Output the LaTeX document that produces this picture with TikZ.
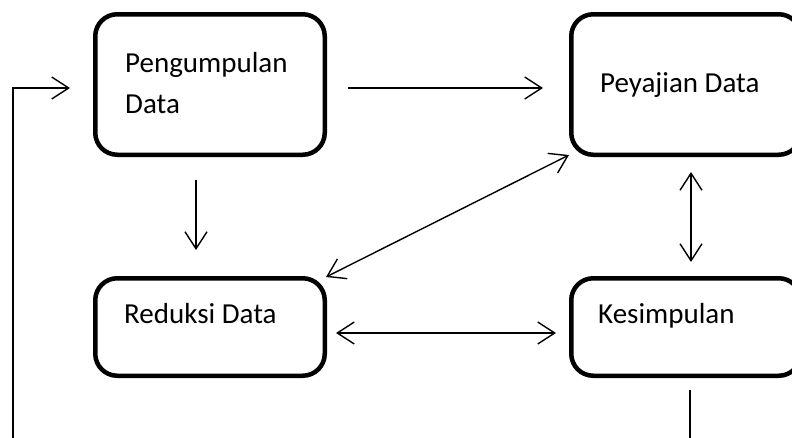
\documentclass[tikz,border=0pt]{standalone}
\usepackage{fontspec}
\setmainfont{Carlito}
\usetikzlibrary{arrows.meta,calc}
\tikzset{
  box/.style={draw, rectangle, rounded corners=22pt, line width=4.5pt, minimum width=229.5pt, inner sep=0pt},
  tall/.style={minimum height=140.5pt},
  short/.style={minimum height=97.5pt},
  lbl/.style={anchor=base west, inner sep=0pt, font=\fontsize{29}{40}\selectfont},
  conn/.style={line width=1.4pt},
  tip/.style={-{Straight Barb[length=17pt,width=22pt,line width=1.4pt]}},
  tips/.style={{Straight Barb[length=17pt,width=22pt,line width=1.4pt]}-{Straight Barb[length=17pt,width=22pt,line width=1.4pt]}}
}
\begin{document}
\begin{tikzpicture}[x=1pt,y=-1pt]
\useasboundingbox (0,0) rectangle (792,437);
\clip (0,0) rectangle (792,437);
\node[box,tall]  (a) at (210,84.5) {};
\node[box,tall]  (b) at (686,84.5) {};
\node[box,short] (c) at (210,327) {};
\node[box,short] (d) at (686,327) {};
\node[lbl] (ta1) at (125,72) {Pengumpulan};
\node[lbl] (ta2) at (125,113) {Data};
\node[lbl] (tb) at (600,92) {Peyajian Data};
\node[lbl] (tc) at (124,323) {Reduksi Data};
\node[lbl] (td) at (598,323) {Kesimpulan};
\coordinate (loopL) at (13,470);
% a -> b
\draw[conn,tip,shorten <=21pt,shorten >=26pt] ([yshift=-3.5pt]a.east) -- ([yshift=-3.5pt]b.west);
% a -> c
\draw[conn,tip,shorten <=23pt,shorten >=26pt] ([xshift=-14pt]a.south) -- ([xshift=-14pt]c.north);
% b <-> c
\draw[conn,tips] ([yshift=2pt]b.south west) -- ([xshift=-1pt,yshift=-1pt]c.north east);
% b <-> d
\draw[conn,tips,shorten <=15pt,shorten >=14pt] ([xshift=5pt]b.south) -- ([xshift=5pt]d.north);
% c <-> d
\draw[conn,tips,shorten <=9pt,shorten >=13pt] ([yshift=-6pt]c.east) -- ([yshift=-6pt]d.west);
% feedback d -> a
\draw[conn,tip,shorten <=12pt,shorten >=23pt] ([xshift=4pt]d.south) |- (loopL) |- ([yshift=-3.5pt]a.west);
\end{tikzpicture}
\end{document}
